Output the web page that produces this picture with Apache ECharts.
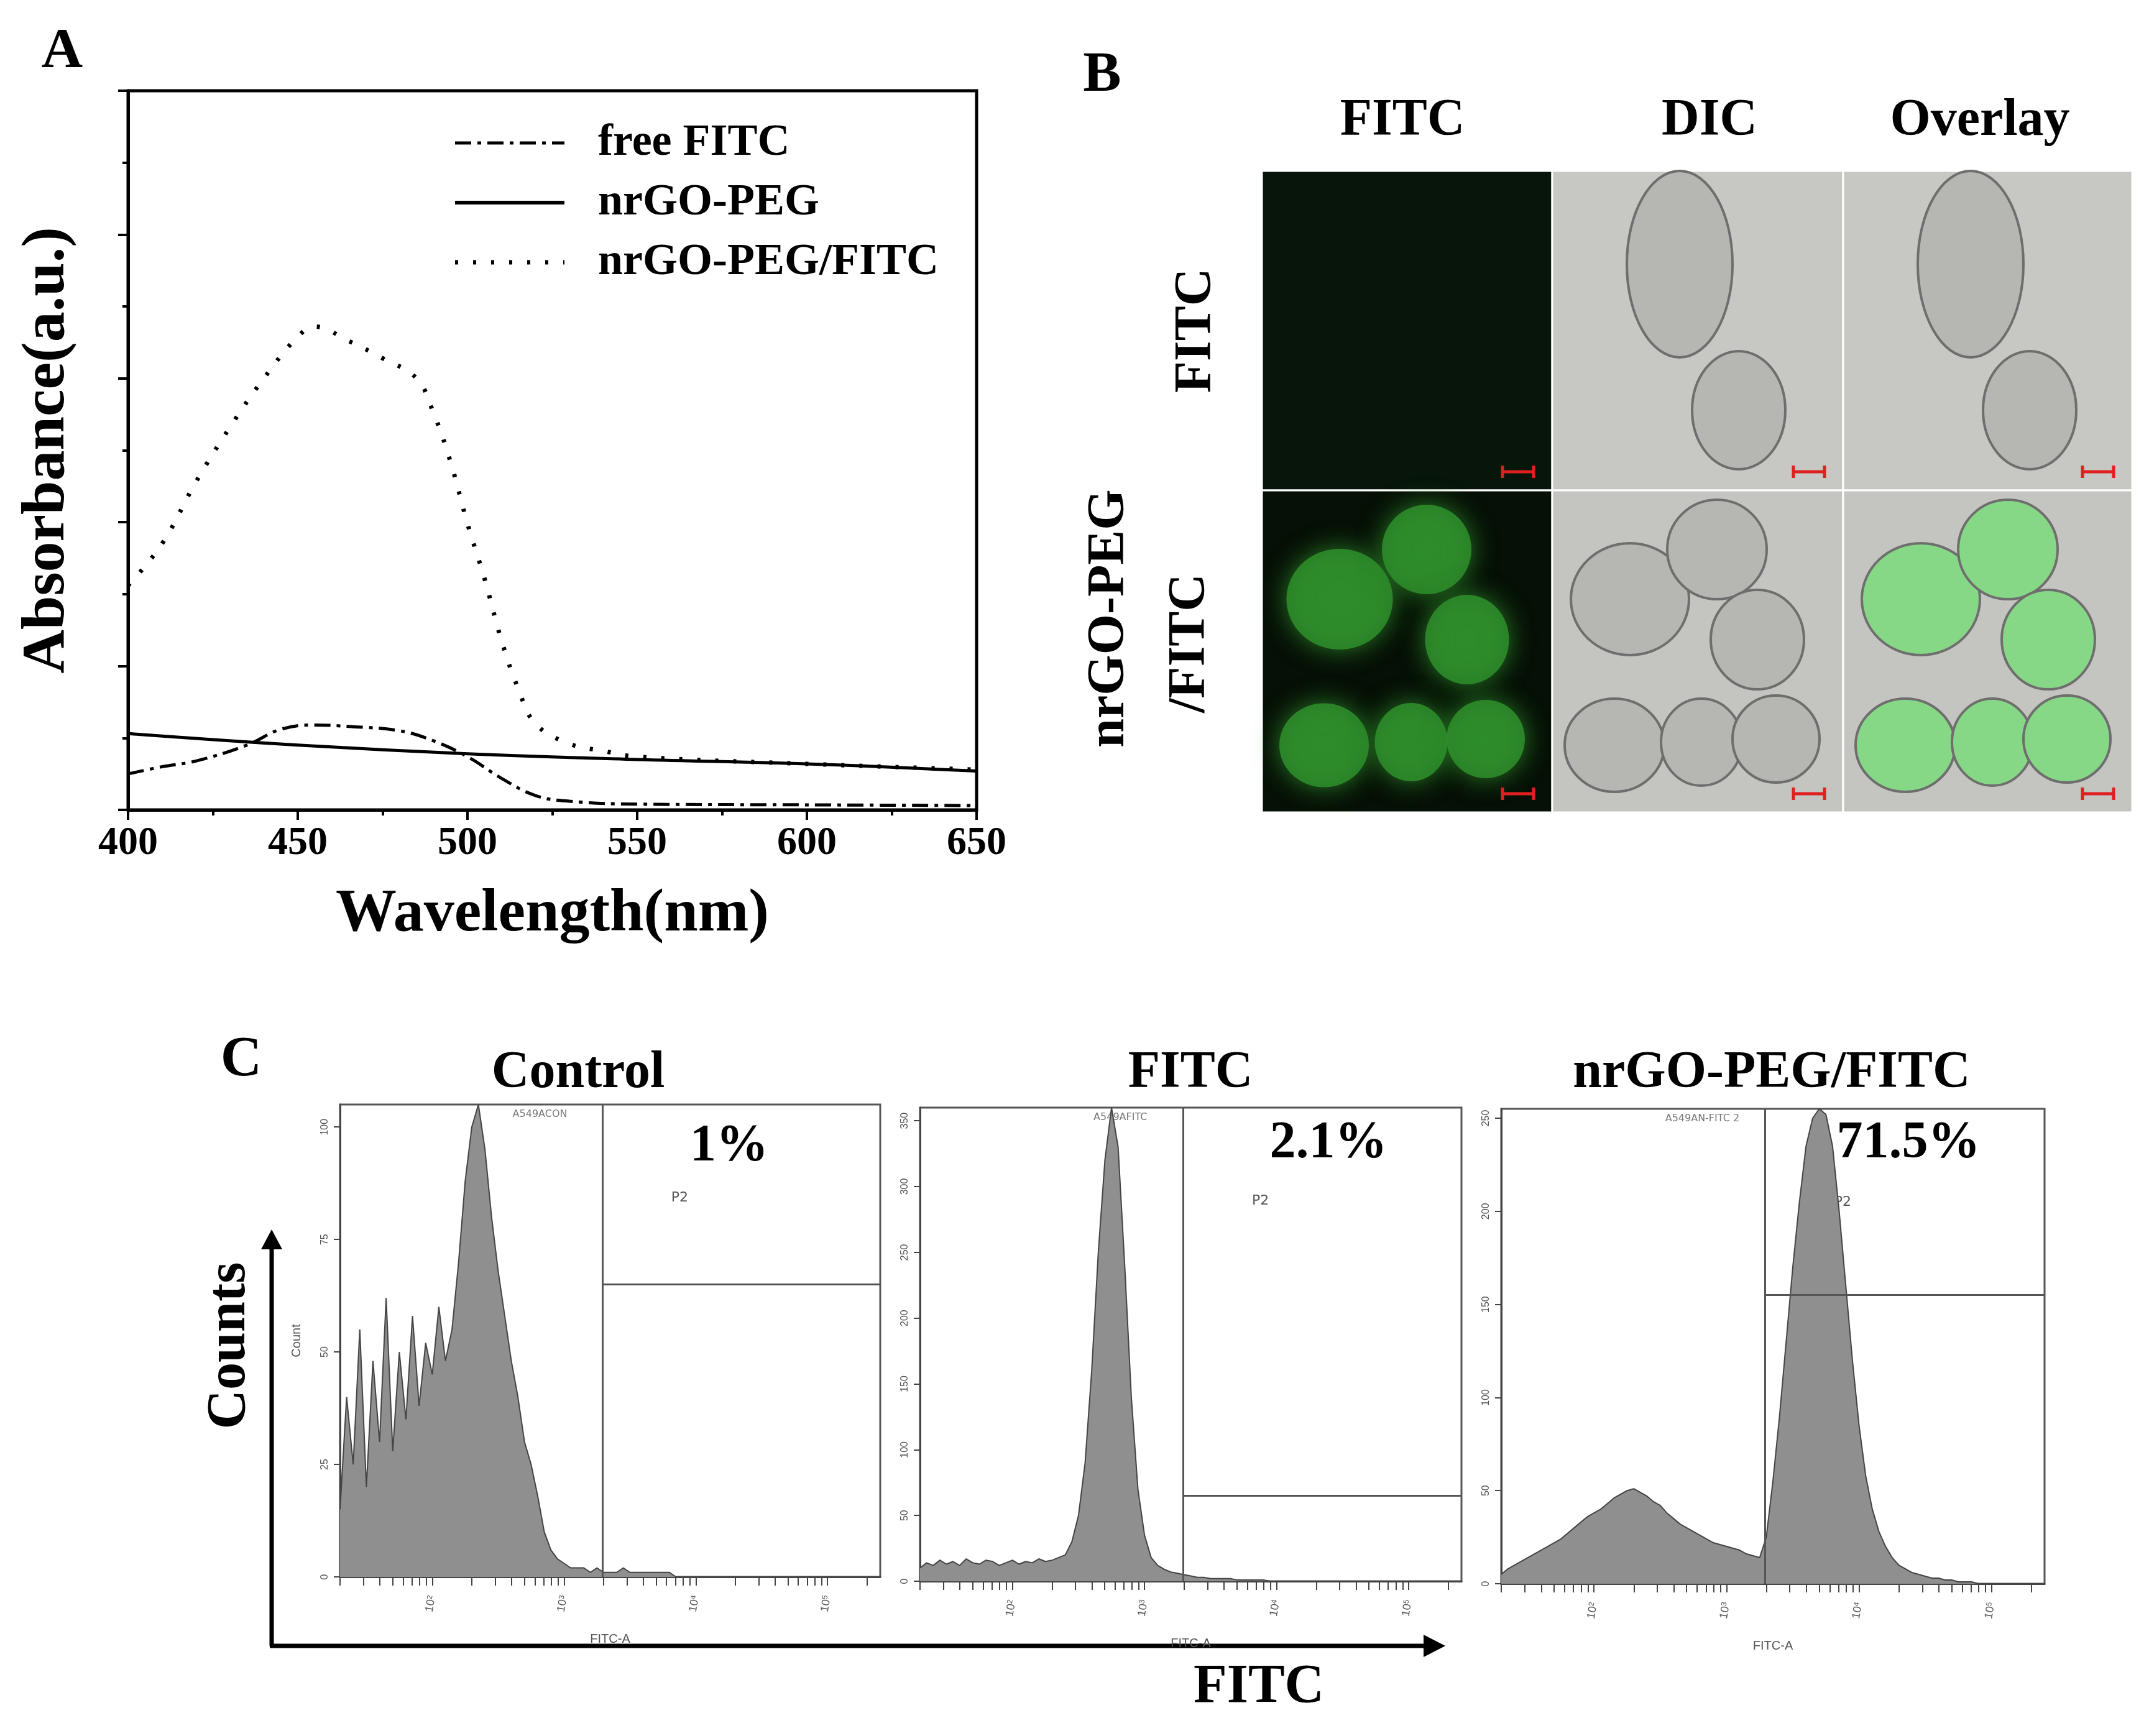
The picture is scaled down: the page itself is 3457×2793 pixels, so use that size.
<!DOCTYPE html>
<html lang="en">
<head>
<meta charset="UTF-8" />
<title>FITC figure</title>
<script src="https://cdn.jsdelivr.net/npm/echarts@6/dist/echarts.min.js"></script>
<style>
  html, body { margin: 0; padding: 0; background: #fff; }
  #main { width: 3457px; height: 2793px; }
</style>
</head>
<body>
<div id="main"></div>
<script>
// ---- panel A: absorbance spectra ----
var wlFree = [400, 410, 420, 435, 445, 455, 465, 480, 490, 500, 510, 520, 530, 550, 600, 650];
var absFree = [0.25, 0.3, 0.34, 0.45, 0.56, 0.59, 0.58, 0.55, 0.48, 0.37, 0.22, 0.1, 0.06, 0.04, 0.035, 0.03];
var wlPeg = [400, 450, 500, 550, 600, 650];
var absPeg = [0.53, 0.45, 0.39, 0.35, 0.32, 0.27];
var wlLoad = [400, 410, 420, 430, 440, 450, 455, 465, 475, 485, 490, 495, 500, 505, 510, 515, 520, 530, 540, 550, 600, 650];
var absLoad = [1.56, 1.85, 2.28, 2.66, 3.0, 3.29, 3.36, 3.26, 3.14, 3.0, 2.76, 2.42, 1.99, 1.61, 1.18, 0.84, 0.6, 0.46, 0.41, 0.37, 0.32, 0.28];

// ---- panel C: flow cytometry histograms (x = log10 FITC-A, step 0.05 from 1.30) ----
var binStart = 1.30, binStep = 0.05;
var countsControl = [15, 40, 25, 55, 20, 48, 30, 62, 28, 50, 35, 58, 38, 52, 45, 60, 48, 55, 70, 88, 100, 105, 95, 80, 68, 58, 48, 40, 30, 25, 18, 10, 6, 4, 3, 2, 2, 2, 1, 2, 1, 1, 1, 2, 1, 1, 1, 1, 1, 1, 1, 0, 0, 0, 0, 0, 0, 0, 0, 0, 0, 0, 0, 0, 0, 0, 0, 0, 0, 0, 0, 0, 0, 0, 0, 0, 0, 0, 0, 0, 0, 0, 0];
var countsFitc = [10, 14, 12, 16, 13, 15, 12, 17, 14, 13, 16, 15, 12, 14, 16, 13, 15, 14, 17, 15, 16, 18, 20, 30, 50, 90, 160, 250, 320, 360, 330, 240, 140, 70, 35, 18, 12, 9, 7, 6, 5, 4, 3, 3, 2, 2, 2, 2, 1, 1, 1, 1, 1, 0, 0, 0, 0, 0, 0, 0, 0, 0, 0, 0, 0, 0, 0, 0, 0, 0, 0, 0, 0, 0, 0, 0, 0, 0, 0, 0, 0, 0, 0];
var countsLoaded = [5, 8, 10, 12, 14, 16, 18, 20, 22, 24, 27, 30, 33, 36, 38, 40, 43, 46, 48, 50, 51, 49, 47, 44, 42, 38, 35, 32, 30, 28, 26, 24, 22, 21, 20, 19, 18, 16, 15, 14, 25, 55, 90, 130, 170, 205, 235, 250, 255, 252, 235, 200, 160, 120, 85, 58, 40, 28, 20, 14, 10, 8, 6, 5, 4, 3, 3, 2, 2, 1, 1, 1, 0, 0, 0, 0, 0, 0, 0, 0, 0, 0, 0];
var histTitles = ["Control", "FITC", "nrGO-PEG/FITC"];
var histTags = ["A549ACON", "A549AFITC", "A549AN-FITC 2"];
var histPercent = ["1%", "2.1%", "71.5%"];
var histMax = [105, 360, 255];
var histYTicks = [[0, 25, 50, 75, 100], [0, 50, 100, 150, 200, 250, 300, 350], [0, 50, 100, 150, 200, 250]];
var gateX = 3.29;
var gateY = [65, 65, 155];
var decadeLabels = [2, 3, 4, 5];

function pairs(xs, ys) { return xs.map(function (x, i) { return [x, ys[i]]; }); }
function binned(ys) { return ys.map(function (y, i) { return [+(binStart + i * binStep).toFixed(2), y]; }); }

// minor log ticks
var logTicks = [];
for (var d = 1; d <= 5; d++) {
  for (var k = 1; k <= 9; k++) {
    var v = d + Math.log10(k);
    if (v >= 1.3 && v <= 5.4) logTicks.push(v);
  }
}

var serif = "Liberation Serif";
var histGrids = [
  { left: 547, top: 1777, width: 869, height: 760 },
  { left: 1480, top: 1782, width: 871, height: 762 },
  { left: 2415, top: 1784, width: 874, height: 764 }
];

var grids = [{ left: 206, top: 146, width: 1365, height: 1157, show: true, borderColor: "#000", borderWidth: 5 }];
var xAxes = [{
  gridIndex: 0, type: "value", min: 400, max: 650, interval: 50,
  axisLine: { lineStyle: { color: "#000", width: 5 } },
  axisTick: { length: 16, lineStyle: { width: 4 } },
  minorTick: { show: true, splitNumber: 2, length: 9, lineStyle: { color: "#000", width: 4 } },
  splitLine: { show: false },
  axisLabel: { color: "#000", fontFamily: serif, fontWeight: "bold", fontSize: 64, margin: 22 },
  name: "Wavelength(nm)", nameLocation: "middle", nameGap: 120,
  nameTextStyle: { color: "#000", fontFamily: serif, fontWeight: "bold", fontSize: 98 }
}];
var yAxes = [{
  gridIndex: 0, type: "value", min: 0, max: 5, interval: 1,
  axisLine: { lineStyle: { color: "#000", width: 5 } },
  axisTick: { length: 16, lineStyle: { width: 4 } },
  minorTick: { show: true, splitNumber: 2, length: 9, lineStyle: { color: "#000", width: 4 } },
  splitLine: { show: false },
  axisLabel: { show: false },
  name: "Absorbance(a.u.)", nameLocation: "middle", nameGap: 80,
  nameTextStyle: { color: "#000", fontFamily: serif, fontWeight: "bold", fontSize: 98 }
}];
var series = [
  { name: "free FITC", type: "line", xAxisIndex: 0, yAxisIndex: 0, smooth: 0.4, symbol: "none",
    lineStyle: { color: "#000", width: 5, type: [26, 10, 6, 10] }, data: pairs(wlFree, absFree) },
  { name: "nrGO-PEG", type: "line", xAxisIndex: 0, yAxisIndex: 0, smooth: 0.4, symbol: "none",
    lineStyle: { color: "#000", width: 5 }, data: pairs(wlPeg, absPeg) },
  { name: "nrGO-PEG/FITC", type: "line", xAxisIndex: 0, yAxisIndex: 0, smooth: 0.4, symbol: "none",
    lineStyle: { color: "#000", width: 7, type: [5, 24] }, data: pairs(wlLoad, absLoad) }
];

var hists = [countsControl, countsFitc, countsLoaded];
histGrids.forEach(function (g, i) {
  var gi = i + 1;
  grids.push({ left: g.left, top: g.top, width: g.width, height: g.height, show: true, borderColor: "#555", borderWidth: 3 });
  xAxes.push({
    gridIndex: gi, type: "value", min: 1.3, max: 5.4,
    axisLine: { lineStyle: { color: "#444", width: 3 } },
    axisTick: { customValues: logTicks, length: 14, lineStyle: { color: "#444", width: 2 } },
    splitLine: { show: false },
    axisLabel: {
      customValues: decadeLabels, color: "#555", fontSize: 18, rotate: 80, margin: 30,
      formatter: function (v) { return "10{s|" + Math.round(v) + "}"; },
      rich: { s: { fontSize: 12, verticalAlign: "top", color: "#555" } }
    },
    name: "FITC-A", nameLocation: "middle", nameGap: 90, nameTextStyle: { color: "#555", fontSize: 20 }
  });
  yAxes.push({
    gridIndex: gi, type: "value", min: 0, max: histMax[i],
    axisLine: { lineStyle: { color: "#444", width: 3 } },
    axisTick: { customValues: histYTicks[i], length: 10, lineStyle: { color: "#444", width: 2 } },
    splitLine: { show: false },
    axisLabel: { customValues: histYTicks[i], color: "#555", fontSize: 16, rotate: 90, margin: 16 },
    name: i === 0 ? "Count" : "", nameLocation: "middle", nameGap: 60, nameRotate: 90,
    nameTextStyle: { color: "#555", fontSize: 20 }
  });
  series.push({
    name: histTitles[i], type: "line", xAxisIndex: gi, yAxisIndex: gi, symbol: "none",
    lineStyle: { color: "#444", width: 2 }, areaStyle: { color: "#8f8f8f", opacity: 1 },
    data: binned(hists[i]),
    markLine: {
      silent: true, symbol: "none", label: { show: false },
      lineStyle: { color: "#555", width: 3, type: "solid" },
      data: [
        [{ coord: [gateX, 0] }, { coord: [gateX, histMax[i]] }],
        [{ coord: [gateX, gateY[i]] }, { coord: [5.4, gateY[i]] }]
      ]
    }
  });
});

// ---- graphic: labels, legend, panel B images, arrows ----
var gfx = [];
function txt(x, y, s, size, opts) {
  var o = { type: "text", x: x, y: y, style: Object.assign({ text: s, fill: "#000", font: "bold " + size + "px '" + serif + "'",
    textAlign: "center", textVerticalAlign: "middle" }, opts || {}) };
  gfx.push(o);
  return o;
}
txt(100, 84, "A", 92);
txt(1773, 122, "B", 92);
txt(388, 1706, "C", 92);

// legend of panel A
var legRows = [["free FITC", [26, 10, 6, 10], 5], ["nrGO-PEG", null, 6], ["nrGO-PEG/FITC", [5, 24], 7]];
legRows.forEach(function (r, i) {
  var y = 230 + i * 96;
  gfx.push({ type: "line", shape: { x1: 732, y1: y, x2: 908, y2: y },
    style: { stroke: "#000", lineWidth: r[2], lineDash: r[1] || null } });
  txt(962, y, r[0], 72, { textAlign: "left" });
});

// panel B
var colX = [2030, 2497, 2965, 3430];
var rowY = [275, 789, 1307];
txt(2256, 195, "FITC", 84);
txt(2750, 195, "DIC", 84);
txt(3185, 195, "Overlay", 84);
gfx.push({ type: "text", x: 1925, y: 532, rotation: Math.PI / 2,
  style: { text: "FITC", fill: "#000", font: "bold 84px '" + serif + "'", textAlign: "center", textVerticalAlign: "middle" } });
gfx.push({ type: "text", x: 1785, y: 995, rotation: Math.PI / 2,
  style: { text: "nrGO-PEG", fill: "#000", font: "bold 84px '" + serif + "'", textAlign: "center", textVerticalAlign: "middle" } });
gfx.push({ type: "text", x: 1915, y: 1035, rotation: Math.PI / 2,
  style: { text: "/FITC", fill: "#000", font: "bold 84px '" + serif + "'", textAlign: "center", textVerticalAlign: "middle" } });

// cells: [cx, cy, rx, ry] relative to tile (tile ~467 x 515)
var cellsTop = [[205, 150, 85, 150], [300, 385, 75, 95]];
var cellsBottom = [[125, 175, 95, 90], [265, 95, 80, 80], [330, 240, 75, 80], [100, 410, 80, 75], [240, 405, 65, 70], [360, 400, 70, 70]];
var bgTop = ["#07150a", "#c7c7c4", "#c7c7c4"];
var bgBottom = ["#061006", "#c4c4c1", "#c4c4c1"];
for (var c = 0; c < 3; c++) {
  var x0 = colX[c], w = colX[c + 1] - colX[c];
  [[rowY[0], bgTop, cellsTop, false], [rowY[1], bgBottom, cellsBottom, true]].forEach(function (row) {
    var y0 = row[0], h = rowY[rowY.indexOf(y0) + 1] - y0;
    gfx.push({ type: "rect", shape: { x: x0, y: y0, width: w, height: h },
      style: { fill: row[1][c], stroke: "#fff", lineWidth: 3 } });
    row[2].forEach(function (e) {
      if (c === 0) {
        if (row[3]) gfx.push({ type: "ellipse", shape: { cx: x0 + e[0], cy: y0 + e[1], rx: e[2] * 0.9, ry: e[3] * 0.9 },
          style: { fill: "#2f8f2c", shadowBlur: 40, shadowColor: "#2f8f2c", opacity: 0.85 } });
      } else {
        var fill = (c === 2 && row[3]) ? "#86d886" : "#b6b6b3";
        gfx.push({ type: "ellipse", shape: { cx: x0 + e[0], cy: y0 + e[1], rx: e[2], ry: e[3] },
          style: { fill: fill, stroke: "#6e6e6e", lineWidth: 4 } });
      }
    });
    // red scale bar
    var bx = x0 + w - 80, by = y0 + h - 30;
    gfx.push({ type: "polyline", shape: { points: [[bx, by - 10], [bx, by + 10], [bx, by], [bx + 50, by], [bx + 50, by - 10], [bx + 50, by + 10]] },
      style: { stroke: "#e02020", lineWidth: 5, fill: null } });
  });
}

// panel C titles and annotations
var titleX = [930, 1915, 2850];
histGrids.forEach(function (g, i) {
  txt(titleX[i], 1727, histTitles[i], 84, { font: "bold 84px '" + serif + "'" });
  gfx.push({ type: "text", x: g.left + g.width * 0.37, y: g.top + 8,
    style: { text: histTags[i], fill: "#777", font: "16px 'DejaVu Sans'", textAlign: "center", textVerticalAlign: "top" } });
  gfx.push({ type: "text", x: g.left + g.width * 0.59 + 20, y: g.top + 150,
    style: { text: "P2", fill: "#555", font: "22px 'DejaVu Sans'", textAlign: "left", textVerticalAlign: "middle" } });
});
txt(1173, 1845, "1%", 84);
txt(2137, 1840, "2.1%", 84);
txt(3070, 1840, "71.5%", 84);

// Counts / FITC arrows
gfx.push({ type: "polyline", shape: { points: [[437, 2648], [437, 2000]] }, style: { stroke: "#000", lineWidth: 7 } });
gfx.push({ type: "polygon", shape: { points: [[420, 2010], [454, 2010], [437, 1978]] }, style: { fill: "#000" } });
gfx.push({ type: "polyline", shape: { points: [[434, 2648], [2300, 2648]] }, style: { stroke: "#000", lineWidth: 7 } });
gfx.push({ type: "polygon", shape: { points: [[2290, 2630], [2290, 2666], [2325, 2648]] }, style: { fill: "#000" } });
gfx.push({ type: "text", x: 370, y: 2165, rotation: Math.PI / 2,
  style: { text: "Counts", fill: "#000", font: "bold 88px '" + serif + "'", textAlign: "center", textVerticalAlign: "middle" } });
txt(2025, 2715, "FITC", 88);

var myChart = echarts.init(document.getElementById("main"));
myChart.setOption({
  animation: false,
  backgroundColor: "#fff",
  grid: grids,
  xAxis: xAxes,
  yAxis: yAxes,
  series: series,
  graphic: gfx
});
</script>
</body>
</html>
